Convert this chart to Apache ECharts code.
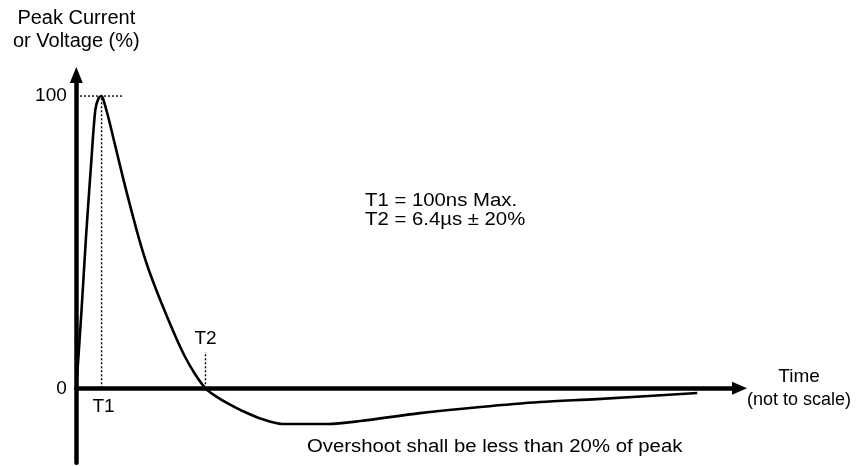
<!DOCTYPE html>
<html>
<head>
<meta charset="utf-8">
<script src="https://cdn.jsdelivr.net/npm/echarts@6/dist/echarts.min.js"></script>
<style>
  html, body { margin: 0; padding: 0; background: #fff; }
  #chart { width: 856px; height: 466px; }
</style>
</head>
<body>
<div id="chart"></div>
<script>
// Pulse waveform: time in arbitrary units (not to scale), amplitude in % of peak
const timeUnits = [0, 0.8, 1.5, 2.3, 2.9, 3.4, 3.85, 4.15, 5.1, 7.2, 9.4, 10.9, 12.8, 15.1, 16.6, 18.1, 19.7,
  21.2, 23.1, 25.0, 28.3, 31.4, 38.4, 43.3, 52.4, 61.6, 70.7, 79.4, 94.7];
const pulsePercent = [0, 26.8, 52.4, 78.1, 95.3, 99.3, 100, 98.6, 90.8, 71.3, 52.5, 41.5, 30.2, 17.9, 10.7, 4.9, 0,
  -2.6, -5.2, -7.4, -10.5, -12.2, -12.2, -11.2, -8.5, -6.4, -4.7, -3.7, -1.6];
const yTicks = [0, 100];
const t1 = 3.85;          // rise time marker
const t2 = 19.7;          // zero crossing marker
const peakLevel = 100;
const peakGuideSpan = [0.56, 6.97];
const t2GuideTop = 12.4;
const markerNames = ['T1', 'T2'];
const specLines = ['T1 = 100ns Max.', 'T2 = 6.4\u00b5s \u00b1 20%'];
const overshootNote = 'Overshoot shall be less than 20% of peak';

const FONT = "'Liberation Sans', Arial, sans-serif";
const INK = '#000';

const pulse = timeUnits.map((t, i) => [t, pulsePercent[i]]);
const dotted = { color: INK, width: 1.4, type: [2, 2] };

const chart = echarts.init(document.getElementById('chart'), null, { renderer: 'canvas' });
chart.setOption({
  animation: false,
  backgroundColor: '#fff',
  textStyle: { fontFamily: FONT, color: INK },
  grid: { left: 76.3, right: 124, top: 82.9, bottom: 3.2, containLabel: false },
  xAxis: {
    type: 'value', min: 0, max: 100,
    axisLine: {
      show: true, onZero: true,
      lineStyle: { color: INK, width: 4.5 },
      symbol: ['none', 'triangle'], symbolSize: [13, 15], symbolOffset: [0, 7.5]
    },
    axisTick: { show: false }, axisLabel: { show: false }, splitLine: { show: false },
    name: '{a|Time}\n{b|(not to scale)}',
    nameLocation: 'end', nameGap: 15,
    nameTextStyle: {
      rich: {
        a: { fontFamily: FONT, fontSize: 19, color: INK, lineHeight: 23, align: 'center' },
        b: { fontFamily: FONT, fontSize: 18, color: INK, lineHeight: 23, align: 'center' }
      }
    }
  },
  yAxis: {
    type: 'value', min: -25.5, max: 104.5,
    axisLine: {
      show: true, onZero: true,
      lineStyle: { color: INK, width: 4.5 },
      symbol: ['none', 'triangle'], symbolSize: [13, 16], symbolOffset: [0, 8]
    },
    axisTick: { show: false }, splitLine: { show: false },
    axisLabel: {
      customValues: yTicks, margin: 9.5,
      fontFamily: FONT, fontSize: 19, color: INK
    },
    name: 'Peak Current\nor Voltage (%)',
    nameLocation: 'end', nameGap: 30,
    nameTextStyle: { fontFamily: FONT, fontSize: 20, lineHeight: 23, color: INK, align: 'center' }
  },
  series: [
    {
      name: 'pulse', type: 'line', data: pulse, showSymbol: false,
      smooth: 0.3,
      lineStyle: { color: INK, width: 2.6 }, z: 3
    },
    {
      name: 'peak guide', type: 'line', showSymbol: false, lineStyle: dotted,
      data: [[peakGuideSpan[0], peakLevel], [peakGuideSpan[1], peakLevel]], z: 2
    },
    {
      name: 'T1 guide', type: 'line', showSymbol: false, lineStyle: dotted,
      data: [[t1, 0], [t1, peakLevel]], z: 2
    },
    {
      name: 'T2 guide', type: 'line', showSymbol: false, lineStyle: dotted,
      data: [[t2, 0], [t2, t2GuideTop]], z: 2
    },
    {
      name: 'markers', type: 'scatter', symbolSize: 0, silent: true,
      data: [
        { value: [t1, 0], name: markerNames[0], label: { position: 'bottom', distance: 9, offset: [2, 0] } },
        { value: [t2, t2GuideTop], name: markerNames[1], label: { position: 'top', distance: 4 } }
      ],
      label: { show: true, formatter: '{b}', fontFamily: FONT, fontSize: 19, color: INK },
      itemStyle: { opacity: 1 }, emphasis: { disabled: true }
    }
  ],
  graphic: [
    {
      type: 'text', x: 365, y: 201.5, scaleX: 1.13,
      style: { text: specLines[0], font: '18px ' + FONT, fill: INK, align: 'left', verticalAlign: 'middle' }
    },
    {
      type: 'text', x: 365, y: 220.5, scaleX: 1.13,
      style: { text: specLines[1], font: '18px ' + FONT, fill: INK, align: 'left', verticalAlign: 'middle' }
    },
    {
      type: 'text', x: 307, y: 447.5, scaleX: 1.13,
      style: { text: overshootNote, font: '18px ' + FONT, fill: INK, align: 'left', verticalAlign: 'middle' }
    }
  ]
});
</script>
</body>
</html>
